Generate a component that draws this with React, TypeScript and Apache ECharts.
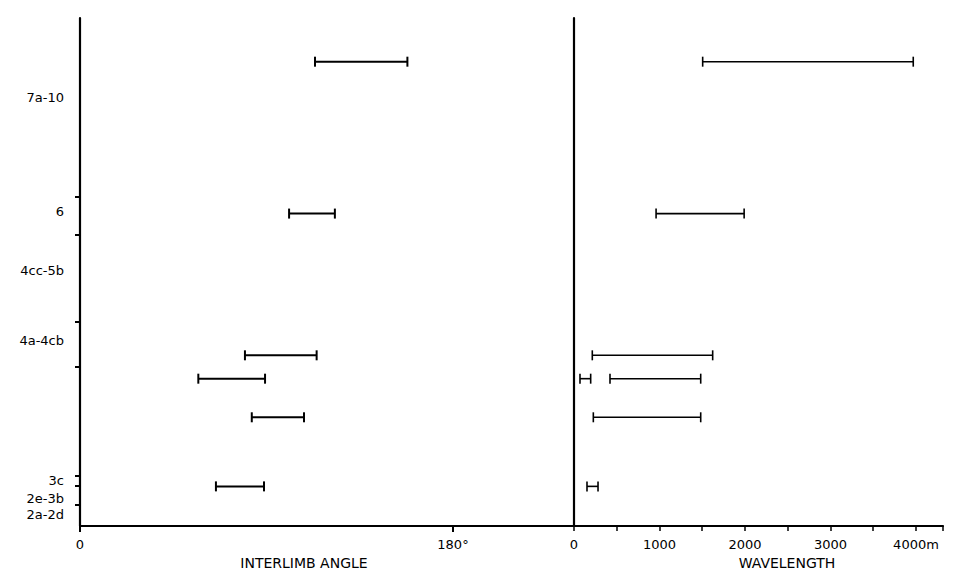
import React, { useEffect, useRef } from "react";
import * as echarts from "echarts";

// Stratigraphic position (0 = base of section, 100 = top of diagram)
const intervalLabels = ["7a-10", "6", "4cc-5b", "4a-4cb", "3c", "2e-3b", "2a-2d"];
const intervalLabelPos = [84.3, 62.0, 50.2, 36.6, 8.9, 5.5, 2.2];
const intervalBoundaries = [64.8, 57.3, 40.2, 31.3, 9.8, 7.9, 4.1];

// Interlimb angle ranges (degrees)
const anglePos = [91.4, 61.5, 33.6, 29.0, 21.4, 7.8];
const angleLow = [113.4, 100.9, 79.6, 57.1, 82.9, 65.6];
const angleHigh = [158.0, 123.0, 114.2, 89.3, 108.1, 88.8];

// Wavelength ranges (m)
const wavePos = [91.4, 61.5, 33.6, 29.0, 29.0, 21.4, 7.8];
const waveLow = [1505, 960, 214, 70, 421, 226, 152];
const waveHigh = [3968, 1990, 1622, 195, 1482, 1482, 281];

const angleTicks = [0, 180];
const waveLabelTicks = [0, 1000, 2000, 3000, 4000];

const INK = "#000";
const FONT = "DejaVu Sans";

function rangeRenderer(lineWidth: number, cap: number) {
  return (params: any, api: any) => {
    const y = api.value(0);
    const lo = api.value(1);
    const hi = api.value(2);
    const p1 = api.coord([lo, y]);
    const p2 = api.coord([hi, y]);
    const style = { stroke: INK, lineWidth };
    return {
      type: "group",
      children: [
        { type: "line", shape: { x1: p1[0], y1: p1[1], x2: p2[0], y2: p2[1] }, style },
        { type: "line", shape: { x1: p1[0], y1: p1[1] - cap, x2: p1[0], y2: p1[1] + cap }, style },
        { type: "line", shape: { x1: p2[0], y1: p2[1] - cap, x2: p2[0], y2: p2[1] + cap }, style },
      ],
    };
  };
}

export default function App() {
  const ref = useRef<HTMLDivElement>(null);
  useEffect(() => {
    document.body.style.margin = "0";
    if (!ref.current) return;
    const chart = echarts.init(ref.current, null, { renderer: "svg" });
    const angleData = anglePos.map((p, i) => [p, angleLow[i], angleHigh[i]]);
    const waveData = wavePos.map((p, i) => [p, waveLow[i], waveHigh[i]]);
    const labelMap: Record<string, string> = {};
    intervalLabelPos.forEach((v, i) => (labelMap[String(v)] = intervalLabels[i]));

    const axisLine = { show: true, lineStyle: { color: INK, width: 2.2 } };
    const textStyle = { color: INK, fontFamily: FONT, fontSize: 13 };

    chart.setOption({
      animation: false,
      backgroundColor: "#fff",
      grid: [
        { left: 80, top: 18, width: 494, bottom: 45, containLabel: false, outerBoundsMode: "none" },
        { left: 574, top: 18, width: 369, bottom: 45, containLabel: false, outerBoundsMode: "none" },
      ],
      xAxis: [
        {
          type: "value",
          gridIndex: 0,
          min: 0,
          max: 238.4,
          splitLine: { show: false },
          axisLine,
          axisTick: { show: true, customValues: angleTicks, length: 6, lineStyle: { color: INK, width: 2 } },
          axisLabel: {
            ...textStyle,
            margin: 12,
            customValues: angleTicks,
            formatter: (v: number) => (v === 180 ? "180°" : String(v)),
          },
          name: "INTERLIMB ANGLE",
          nameLocation: "middle",
          nameGap: 29,
          nameTextStyle: { ...textStyle, fontSize: 14, padding: [0, 46, 0, 0] },
        },
        {
          type: "value",
          gridIndex: 1,
          min: 0,
          max: 4316,
          interval: 500,
          splitLine: { show: false },
          axisLine,
          axisTick: { show: true, length: 5, lineStyle: { color: INK, width: 1.5 } },
          axisLabel: {
            ...textStyle,
            margin: 12,
            customValues: waveLabelTicks,
            formatter: (v: number) => (v === 4000 ? "4000m" : String(v)),
          },
          name: "WAVELENGTH",
          nameLocation: "middle",
          nameGap: 29,
          nameTextStyle: { ...textStyle, fontSize: 14, padding: [0, 0, 0, 57] },
        },
      ],
      yAxis: [
        {
          type: "value",
          gridIndex: 0,
          min: 0,
          max: 100,
          splitLine: { show: false },
          axisLine,
          axisTick: { show: true, customValues: intervalBoundaries, length: 5, lineStyle: { color: INK, width: 2 } },
          axisLabel: {
            ...textStyle,
            margin: 16,
            customValues: intervalLabelPos,
            formatter: (v: number) => labelMap[String(v)] ?? "",
          },
        },
        {
          type: "value",
          gridIndex: 1,
          min: 0,
          max: 100,
          splitLine: { show: false },
          axisLine,
          axisTick: { show: false },
          axisLabel: { show: false },
        },
      ],
      series: [
        {
          type: "custom",
          name: "Interlimb angle",
          xAxisIndex: 0,
          yAxisIndex: 0,
          renderItem: rangeRenderer(2, 5),
          encode: { x: [1, 2], y: 0 },
          data: angleData,
        },
        {
          type: "custom",
          name: "Wavelength",
          xAxisIndex: 1,
          yAxisIndex: 1,
          renderItem: rangeRenderer(1.6, 5),
          encode: { x: [1, 2], y: 0 },
          data: waveData,
        },
      ],
    });
    return () => chart.dispose();
  }, []);
  return <div ref={ref} style={{ width: 962, height: 571 }} />;
}
